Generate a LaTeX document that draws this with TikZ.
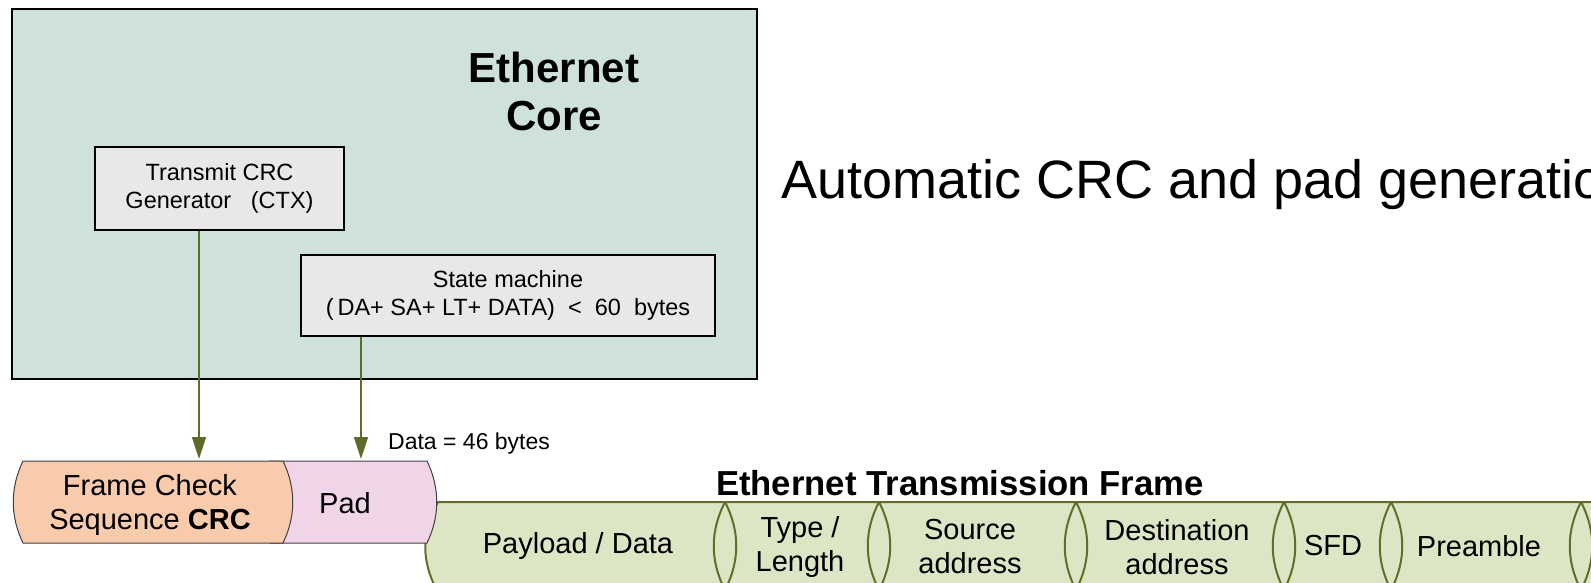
\documentclass[tikz,border=0pt]{standalone}
\usepackage{fontspec}
\setmainfont{Liberation Sans}
\usetikzlibrary{arrows.meta}
\definecolor{coreFill}{RGB}{206,226,219}
\definecolor{boxFill}{RGB}{232,232,232}
\definecolor{arrowCol}{RGB}{94,108,40}
\definecolor{fcsFill}{RGB}{248,203,173}
\definecolor{padFill}{RGB}{240,212,232}
\definecolor{frameFill}{RGB}{221,230,196}
\definecolor{frameLine}{RGB}{95,110,40}
\tikzset{
  corebox/.style={draw=black, line width=2pt, fill=coreFill, inner sep=0pt, anchor=north west},
  blk/.style={draw=black, line width=2pt, fill=boxFill, align=center, inner sep=0pt,
    font=\fontsize{23.5}{27.5}\selectfont},
  conn/.style={draw=arrowCol, line width=1.5pt, -{Triangle[length=22pt,width=14pt]}},
  fcsshape/.style={draw=black!75, line width=1pt},
  framebar/.style={draw=frameLine, line width=2pt, fill=frameFill},
  lens/.style={draw=frameLine, line width=2pt},
  flbl/.style={align=center, inner sep=0pt, font=\fontsize{29}{34}\selectfont},
}
\begin{document}
\begin{tikzpicture}[x=1pt,y=-1pt]
\useasboundingbox (0,0) rectangle (1591,583);
\clip (0,0) rectangle (1591,583);
% core
\node[corebox, minimum width=745pt, minimum height=370pt] (core) at (11,8) {};
\node[align=center, inner sep=0pt, font=\fontsize{42}{48}\selectfont\bfseries] (coretitle) at (554,91) {Ethernet\\Core};
\node[blk, minimum width=249pt, minimum height=83pt] (ctx) at (219.5,188.5) {Transmit CRC\\Generator\ \ \ (CTX)};
\node[blk, minimum width=414pt, minimum height=81pt] (sm) at (508,295.5) {State machine\\(\,DA+ SA+ LT+ DATA)\ \ <\ \ 60\ \ bytes};
\node[anchor=west, inner sep=0pt, font=\fontsize{54}{62}\selectfont] (auto) at (781,185) {Automatic CRC and pad generation};
% frame bar
\path[framebar] (438,502) -- (1610,502) -- (1610,592) -- (438,592) .. controls (421,562) and (421,532) .. (438,502) -- cycle;
\foreach \x in {725,879,1076,1284,1391,1581}{
  \draw[lens] (\x,502) .. controls (\x-15,531) and (\x-15,561) .. (\x,590) .. controls (\x+15,561) and (\x+15,531) .. (\x,502);
}
% pad and fcs
\path[fcsshape, fill=padFill] (270,461) -- (427,461) .. controls (440,488) and (440,516) .. (427,543) -- (270,543) -- cycle;
\path[fcsshape, fill=fcsFill] (23,461) -- (283,461) .. controls (296,488) and (296,516) .. (283,543) -- (23,543) .. controls (10,516) and (10,488) .. (23,461) -- cycle;
\node[flbl] (fcs) at (150,505) {Frame Check\\Sequence \textbf{CRC}};
\node[flbl] (pad) at (345,503) {Pad};
% labels
\node[anchor=west, inner sep=0pt, font=\fontsize{23}{27}\selectfont] (datalbl) at (388,443.5) {Data = 46 bytes};
\node[inner sep=0pt, font=\fontsize{34.7}{40}\selectfont\bfseries] (frametitle) at (960,483) {Ethernet Transmission Frame};
\node[flbl] (payload) at (578,546) {Payload / Data};
\node[flbl] (type) at (800,547) {Type /\\Length};
\node[flbl] (src) at (970,547) {Source\\address};
\node[flbl] (dst) at (1177,547) {Destination\\address};
\node[flbl] (sfd) at (1333,546) {SFD};
\node[flbl] (pre) at (1479,546) {Preamble};
% connectors
\coordinate (a1) at (199,459);
\coordinate (a2) at (361,459);
\draw[conn] (ctx.south -| a1) -- (a1);
\draw[conn] (sm.south -| a2) -- (a2);
\end{tikzpicture}
\end{document}
